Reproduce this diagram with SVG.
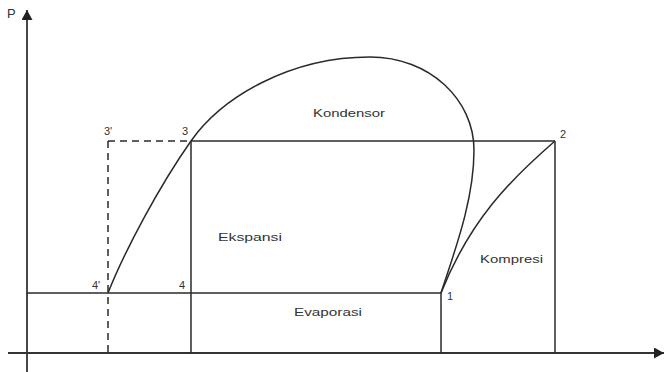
<svg xmlns="http://www.w3.org/2000/svg" width="671" height="372" viewBox="0 0 671 372">
<defs>
<marker id="arr" viewBox="0 0 10 11" refX="10" refY="5.5" markerWidth="10" markerHeight="11" markerUnits="userSpaceOnUse" orient="auto">
<path d="M0,0 L10,5.5 L0,11 z" fill="#222"/>
</marker>
<style>
.ln{stroke:#2a2a2a;stroke-width:1.5;fill:none}
.ax{stroke:#333;stroke-width:1.8;fill:none}
.ds{stroke:#2a2a2a;stroke-width:1.5;fill:none;stroke-dasharray:7,5}
.lb{font-family:"Liberation Sans",Arial,sans-serif;font-size:11px;fill:#333}
.wd{font-family:"Liberation Sans",Arial,sans-serif;font-size:11.5px;fill:#333}
</style>
</defs>
<rect width="671" height="372" fill="#fff"/>
<g id="axes">
<path class="ax" d="M27,372 L27,10" marker-end="url(#arr)"/>
<path class="ax" d="M8,353 L664,353" marker-end="url(#arr)"/>
<text class="lb" x="7" y="18" style="font-size:13px">P</text>
</g>
<g id="connectors">
<path id="dome" class="ln" d="M108,293 C125,250 160,185 191,141 C222,97 290,57 370,57 C430,57 474,100 474,150 C474,200 455,250 441,293"/>
<path id="compression" class="ln" d="M441,293 C470,220 510,180 555,141"/>
<path class="ln" d="M191,141 L555,141"/>
<path class="ln" d="M555,141 L555,353"/>
<path class="ln" d="M191,141 L191,353"/>
<path class="ln" d="M27,293 L441,293"/>
<path class="ln" d="M441,293 L441,353"/>
<path class="ds" d="M108,141 L191,141"/>
<path class="ds" d="M108,141 L108,353"/>
</g>
<g id="n3p"><text class="lb" x="104" y="135">3'</text></g>
<g id="n3"><text class="lb" x="182" y="135">3</text></g>
<g id="n2"><text class="lb" x="560" y="138">2</text></g>
<g id="n4p"><text class="lb" x="92" y="289">4'</text></g>
<g id="n4"><text class="lb" x="179" y="289">4</text></g>
<g id="n1"><text class="lb" x="447" y="300">1</text></g>
<g id="kondensor"><text class="wd" x="313" y="117" textLength="72" lengthAdjust="spacingAndGlyphs">Kondensor</text></g>
<g id="ekspansi"><text class="wd" x="218" y="241" textLength="64" lengthAdjust="spacingAndGlyphs">Ekspansi</text></g>
<g id="kompresi"><text class="wd" x="480" y="263" textLength="63" lengthAdjust="spacingAndGlyphs">Kompresi</text></g>
<g id="evaporasi"><text class="wd" x="294" y="316" textLength="68" lengthAdjust="spacingAndGlyphs">Evaporasi</text></g>
</svg>
